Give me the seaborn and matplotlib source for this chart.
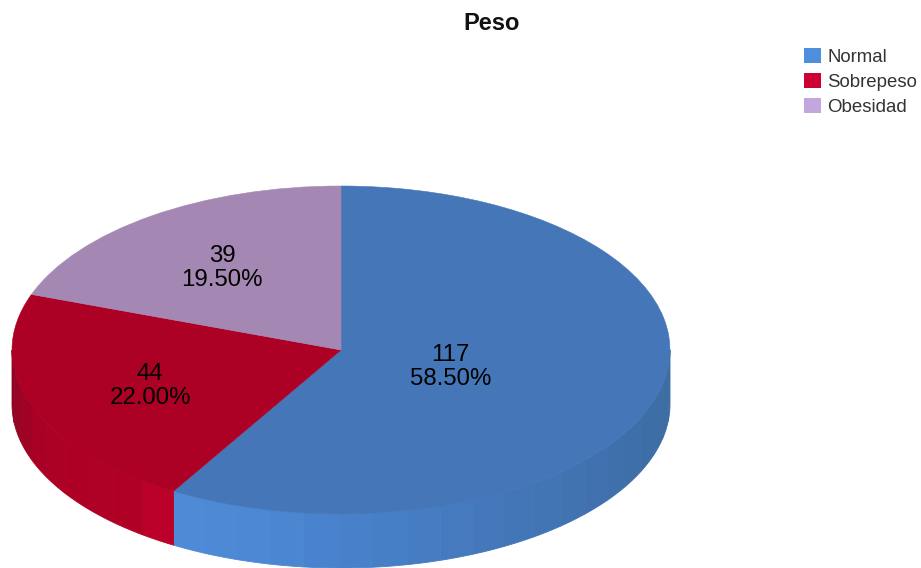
import numpy as np
import matplotlib.pyplot as plt
from matplotlib.patches import Patch
import seaborn as sns

sns.set_theme(style="white")
plt.rcParams['font.family'] = ['Liberation Sans', 'DejaVu Sans']

# Data
categorias = ['Normal', 'Sobrepeso', 'Obesidad']
frecuencias = [117, 44, 39]
porcentajes = ['58.50%', '22.00%', '19.50%']

# Colors
color_cara = sns.color_palette(['#4577B8', '#AD0025', '#A587B3'])
color_leyenda = sns.color_palette(['#4D8FDB', '#CC0033', '#C3A6DB'])

W, H = 921, 568
cx, cy, rx, ry = 341, 350, 329, 164
depth = 54 / ry

fig = plt.figure(figsize=(W / 100, H / 100), dpi=100, facecolor='white')
ax = fig.add_axes([0, 0, 1, 1])

fracs = np.array(frecuencias) / sum(frecuencias)
limites = np.concatenate([[0], np.cumsum(fracs) * 360])


def color_pared(ang):
    # side wall shading, by clockwise angle from the top
    if ang < limites[1]:
        return np.array([np.interp(ang, [90, 125, 150, 175, 195, 211], [0x3D, 0x3F, 0x44, 0x47, 0x4C, 0x4E]),
                         np.interp(ang, [90, 125, 150, 175, 195, 211], [0x6C, 0x70, 0x77, 0x80, 0x88, 0x8A]),
                         np.interp(ang, [90, 125, 150, 175, 195, 211], [0xA0, 0xAC, 0xB8, 0xC8, 0xD4, 0xD6])]) / 255
    return np.array([np.interp(ang, [211, 220, 245, 270], [0xC0, 0xB0, 0xAC, 0x8A]),
                     np.interp(ang, [211, 220, 245, 270], [0x00, 0x00, 0x00, 0x06]),
                     np.interp(ang, [211, 220, 245, 270], [0x2B, 0x26, 0x25, 0x24])]) / 255


# Side wall, faceted in narrow strips
for i in range(2):
    a0, a1 = max(limites[i], 90), min(limites[i + 1], 270)
    bordes = np.linspace(a0, a1, int((a1 - a0) / 6) + 1)
    for b0, b1 in zip(bordes[:-1], bordes[1:]):
        t = np.radians(np.linspace(b0, b1, 8))
        x = np.sin(t)
        y = np.cos(t)
        col = color_pared((b0 + b1) / 2)
        ax.fill(np.r_[x, x[::-1]], np.r_[y, y[::-1] - depth], color=col, lw=0.6, ec=col)

# Top face
wedges, _ = ax.pie(frecuencias, colors=color_cara, startangle=90, counterclock=False, radius=1)
for w, c in zip(wedges, color_cara):
    w.set_edgecolor(c)
    w.set_linewidth(0.4)
ax.set_aspect('auto')
ax.set_xlim(-cx / rx, (W - cx) / rx)
ax.set_ylim((cy - H) / ry, cy / ry)
ax.axis('off')

# Slice labels
dist_etiqueta = [0.346, 0.617, 0.629]
for i, (n, p) in enumerate(zip(frecuencias, porcentajes)):
    m = np.radians((limites[i] + limites[i + 1]) / 2)
    d = dist_etiqueta[i]
    ax.text(d * np.sin(m), d * np.cos(m) - 2 / ry, f'{n}\n{p}', ha='center', va='center',
            fontsize=17.3, color='black', linespacing=1.12)

fig.text(491.5 / W, 1 - 24 / H, 'Peso', ha='center', va='center', fontsize=17, fontweight='bold', color='#111111')

handles = [Patch(facecolor=c, edgecolor='none', label=l) for c, l in zip(color_leyenda, categorias)]
fig.legend(handles=handles, loc='upper left', bbox_to_anchor=(804 / W, 1 - 48 / H),
           bbox_transform=fig.transFigure, frameon=False, fontsize=13.4, borderpad=0, borderaxespad=0,
           handlelength=0.92, handleheight=0.9, handletextpad=0.33, labelspacing=0.36, labelcolor='#333333')

fig.savefig('out.png', dpi=100)
